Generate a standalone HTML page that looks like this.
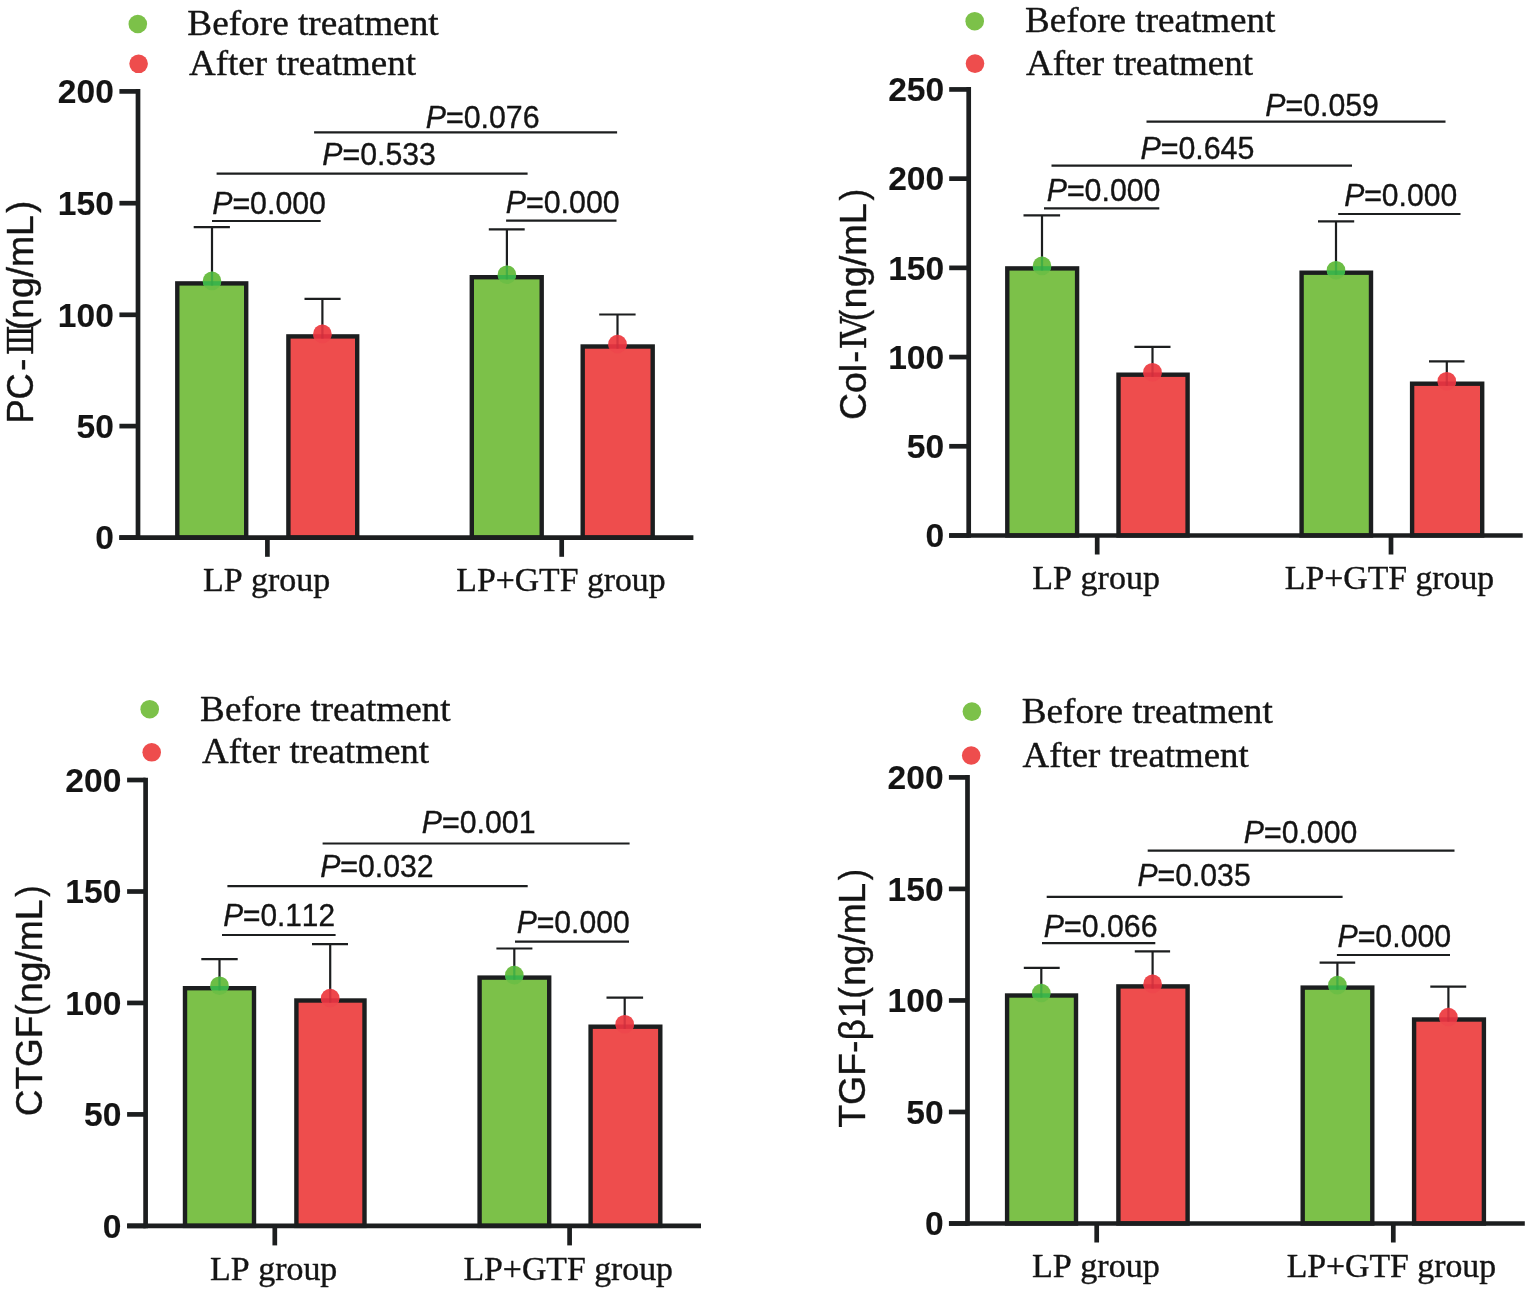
<!DOCTYPE html>
<html lang="en">
<head>
<meta charset="utf-8">
<title>Serum fibrosis markers before and after treatment</title>
<style>
html,body{margin:0;padding:0;background:#fff;}
body{width:1535px;height:1294px;overflow:hidden;}
svg{display:block;}
text{white-space:pre;font-kerning:none;fill:#141414;stroke:#141414;stroke-width:0.38px;stroke-linejoin:round;}
.tk{stroke-width:0.1px;}
.eq{stroke-width:0.65px;}
</style>
</head>
<body>
<svg width="1535" height="1294" viewBox="0 0 1535 1294" fill="#1c1e1f">
<rect width="1535" height="1294" fill="#ffffff"/>
<g class="panel">
<rect x="177.3" y="283.4" width="68.9" height="254.2" fill="#7cc149" stroke="#1c1e1f" stroke-width="4.4"/>
<rect x="288.4" y="336.4" width="68.8" height="201.2" fill="#ee4d4d" stroke="#1c1e1f" stroke-width="4.4"/>
<rect x="471.8" y="277.2" width="69.9" height="260.4" fill="#7cc149" stroke="#1c1e1f" stroke-width="4.4"/>
<rect x="582.7" y="346.5" width="70" height="191.1" fill="#ee4d4d" stroke="#1c1e1f" stroke-width="4.4"/>
<line x1="212" y1="227.2" x2="212" y2="283.2" stroke="#1c1e1f" stroke-width="2.2" stroke-linecap="butt"/>
<line x1="193.7" y1="227.2" x2="229.9" y2="227.2" stroke="#1c1e1f" stroke-width="2.2" stroke-linecap="butt"/>
<clipPath id="c11"><circle cx="212" cy="280.9" r="9.3"/></clipPath>
<circle cx="212" cy="280.9" r="9.3" fill="#6cbe45"/>
<g clip-path="url(#c11)"><rect x="202" y="281.2" width="20" height="4.4" fill="#3cb44a"/><rect x="210.9" y="270.9" width="2.2" height="14.7" fill="#35a846" fill-opacity="0.75"/></g>
<line x1="322.4" y1="298.9" x2="322.4" y2="336.2" stroke="#1c1e1f" stroke-width="2.2" stroke-linecap="butt"/>
<line x1="304.5" y1="298.9" x2="340.6" y2="298.9" stroke="#1c1e1f" stroke-width="2.2" stroke-linecap="butt"/>
<clipPath id="c12"><circle cx="322.4" cy="333.9" r="9.3"/></clipPath>
<circle cx="322.4" cy="333.9" r="9.3" fill="#ee474c"/>
<g clip-path="url(#c12)"><rect x="312.4" y="334.2" width="20" height="4.4" fill="#de3340"/><rect x="321.3" y="323.9" width="2.2" height="14.7" fill="#cc2f3c" fill-opacity="0.75"/></g>
<line x1="506.9" y1="229.3" x2="506.9" y2="277" stroke="#1c1e1f" stroke-width="2.2" stroke-linecap="butt"/>
<line x1="488.8" y1="229.3" x2="524.7" y2="229.3" stroke="#1c1e1f" stroke-width="2.2" stroke-linecap="butt"/>
<clipPath id="c13"><circle cx="506.9" cy="274.7" r="9.3"/></clipPath>
<circle cx="506.9" cy="274.7" r="9.3" fill="#6cbe45"/>
<g clip-path="url(#c13)"><rect x="496.9" y="275" width="20" height="4.4" fill="#3cb44a"/><rect x="505.8" y="264.7" width="2.2" height="14.7" fill="#35a846" fill-opacity="0.75"/></g>
<line x1="617.5" y1="314.5" x2="617.5" y2="346.3" stroke="#1c1e1f" stroke-width="2.2" stroke-linecap="butt"/>
<line x1="599.2" y1="314.5" x2="635.6" y2="314.5" stroke="#1c1e1f" stroke-width="2.2" stroke-linecap="butt"/>
<clipPath id="c14"><circle cx="617.5" cy="344" r="9.3"/></clipPath>
<circle cx="617.5" cy="344" r="9.3" fill="#ee474c"/>
<g clip-path="url(#c14)"><rect x="607.5" y="344.3" width="20" height="4.4" fill="#de3340"/><rect x="616.4" y="334" width="2.2" height="14.7" fill="#cc2f3c" fill-opacity="0.75"/></g>
<line x1="138" y1="89.05" x2="138" y2="539.95" stroke="#1c1e1f" stroke-width="4.7" stroke-linecap="butt"/>
<line x1="119.3" y1="537.6" x2="693.4" y2="537.6" stroke="#1c1e1f" stroke-width="4.7" stroke-linecap="butt"/>
<line x1="119.4" y1="91.4" x2="138" y2="91.4" stroke="#1c1e1f" stroke-width="4.7" stroke-linecap="butt"/>
<text x="113.9" y="103.1" font-family='"Liberation Sans", sans-serif' font-size="33.6" font-weight="bold" text-anchor="end" class="tk">200</text>
<line x1="119.4" y1="203.2" x2="138" y2="203.2" stroke="#1c1e1f" stroke-width="4.7" stroke-linecap="butt"/>
<text x="113.9" y="214.9" font-family='"Liberation Sans", sans-serif' font-size="33.6" font-weight="bold" text-anchor="end" class="tk">150</text>
<line x1="119.4" y1="314.8" x2="138" y2="314.8" stroke="#1c1e1f" stroke-width="4.7" stroke-linecap="butt"/>
<text x="113.9" y="326.5" font-family='"Liberation Sans", sans-serif' font-size="33.6" font-weight="bold" text-anchor="end" class="tk">100</text>
<line x1="119.4" y1="426.1" x2="138" y2="426.1" stroke="#1c1e1f" stroke-width="4.7" stroke-linecap="butt"/>
<text x="113.9" y="437.8" font-family='"Liberation Sans", sans-serif' font-size="33.6" font-weight="bold" text-anchor="end" class="tk">50</text>
<line x1="119.4" y1="537.6" x2="138" y2="537.6" stroke="#1c1e1f" stroke-width="4.7" stroke-linecap="butt"/>
<text x="113.9" y="549.3" font-family='"Liberation Sans", sans-serif' font-size="33.6" font-weight="bold" text-anchor="end" class="tk">0</text>
<line x1="267.4" y1="537.6" x2="267.4" y2="556.8" stroke="#1c1e1f" stroke-width="4.7" stroke-linecap="butt"/>
<line x1="561.7" y1="537.6" x2="561.7" y2="556.8" stroke="#1c1e1f" stroke-width="4.7" stroke-linecap="butt"/>
<text x="202.92" y="591" font-family='"Liberation Serif", serif' font-size="34.2" textLength="127.41" lengthAdjust="spacingAndGlyphs" >LP group</text>
<text x="456.33" y="591" font-family='"Liberation Serif", serif' font-size="34.2" textLength="209.29" lengthAdjust="spacingAndGlyphs" >LP+GTF group</text>
<circle cx="137.8" cy="24" r="9.3" fill="#7cc149"/>
<circle cx="138.6" cy="63.8" r="9.3" fill="#ee4d4d"/>
<text x="187.33" y="35.4" font-family='"Liberation Serif", serif' font-size="35" textLength="251.29" lengthAdjust="spacingAndGlyphs" >Before treatment</text>
<text x="188.94" y="75.1" font-family='"Liberation Serif", serif' font-size="35" textLength="227.08" lengthAdjust="spacingAndGlyphs" >After treatment</text>
<text x="425.77" y="127.5" font-family='"Liberation Sans", sans-serif' font-size="32" textLength="113.76" lengthAdjust="spacingAndGlyphs"><tspan font-style="italic">P</tspan><tspan class="eq">=</tspan>0.076</text>
<text x="322.37" y="165" font-family='"Liberation Sans", sans-serif' font-size="32" textLength="113.46" lengthAdjust="spacingAndGlyphs"><tspan font-style="italic">P</tspan><tspan class="eq">=</tspan>0.533</text>
<text x="212.17" y="214.2" font-family='"Liberation Sans", sans-serif' font-size="32" textLength="113.82" lengthAdjust="spacingAndGlyphs"><tspan font-style="italic">P</tspan><tspan class="eq">=</tspan>0.000</text>
<text x="505.77" y="213.2" font-family='"Liberation Sans", sans-serif' font-size="32" textLength="113.92" lengthAdjust="spacingAndGlyphs"><tspan font-style="italic">P</tspan><tspan class="eq">=</tspan>0.000</text>
<line x1="314.1" y1="132.4" x2="617.1" y2="132.4" stroke="#1c1e1f" stroke-width="2.2" stroke-linecap="butt"/>
<line x1="216.6" y1="173.7" x2="527.6" y2="173.7" stroke="#1c1e1f" stroke-width="2.2" stroke-linecap="butt"/>
<line x1="212" y1="221" x2="320.7" y2="221" stroke="#1c1e1f" stroke-width="2.2" stroke-linecap="butt"/>
<line x1="506.1" y1="220.7" x2="616.5" y2="220.7" stroke="#1c1e1f" stroke-width="2.2" stroke-linecap="butt"/>
<g transform="translate(33.4 0) rotate(-90)">
<text y="0" font-family='"Liberation Sans", sans-serif'><tspan x="-423.57" font-size="36.6" textLength="50.24" lengthAdjust="spacingAndGlyphs">PC</tspan><tspan x="-370.97" font-size="36.6" textLength="12.55" lengthAdjust="spacingAndGlyphs">-</tspan><tspan x="-355.32" font-family='"DejaVu Serif", "Noto Serif CJK SC", serif' font-size="35.4" textLength="30.04" lengthAdjust="spacingAndGlyphs">&#8546;</tspan><tspan x="-330.08" font-size="36.6" textLength="11.68" lengthAdjust="spacingAndGlyphs">(</tspan><tspan x="-318.88" font-size="36.6" textLength="103.72" lengthAdjust="spacingAndGlyphs">ng/mL</tspan><tspan x="-212.71" font-size="36.6" textLength="11.93" lengthAdjust="spacingAndGlyphs">)</tspan></text>
</g>
</g>
<g class="panel">
<rect x="1007.3" y="268.4" width="69.8" height="267.1" fill="#7cc149" stroke="#1c1e1f" stroke-width="4.4"/>
<rect x="1118.5" y="374.7" width="69.1" height="160.8" fill="#ee4d4d" stroke="#1c1e1f" stroke-width="4.4"/>
<rect x="1301.6" y="272.7" width="69.4" height="262.8" fill="#7cc149" stroke="#1c1e1f" stroke-width="4.4"/>
<rect x="1412.1" y="383.7" width="70.1" height="151.8" fill="#ee4d4d" stroke="#1c1e1f" stroke-width="4.4"/>
<line x1="1042" y1="215.3" x2="1042" y2="268.2" stroke="#1c1e1f" stroke-width="2.2" stroke-linecap="butt"/>
<line x1="1023.5" y1="215.3" x2="1060.1" y2="215.3" stroke="#1c1e1f" stroke-width="2.2" stroke-linecap="butt"/>
<clipPath id="c21"><circle cx="1042" cy="265.9" r="9.3"/></clipPath>
<circle cx="1042" cy="265.9" r="9.3" fill="#6cbe45"/>
<g clip-path="url(#c21)"><rect x="1032" y="266.2" width="20" height="4.4" fill="#3cb44a"/><rect x="1040.9" y="255.9" width="2.2" height="14.7" fill="#35a846" fill-opacity="0.75"/></g>
<line x1="1152.5" y1="346.8" x2="1152.5" y2="374.5" stroke="#1c1e1f" stroke-width="2.2" stroke-linecap="butt"/>
<line x1="1134.4" y1="346.8" x2="1170.5" y2="346.8" stroke="#1c1e1f" stroke-width="2.2" stroke-linecap="butt"/>
<clipPath id="c22"><circle cx="1152.5" cy="372.2" r="9.3"/></clipPath>
<circle cx="1152.5" cy="372.2" r="9.3" fill="#ee474c"/>
<g clip-path="url(#c22)"><rect x="1142.5" y="372.5" width="20" height="4.4" fill="#de3340"/><rect x="1151.4" y="362.2" width="2.2" height="14.7" fill="#cc2f3c" fill-opacity="0.75"/></g>
<line x1="1336" y1="221.3" x2="1336" y2="272.5" stroke="#1c1e1f" stroke-width="2.2" stroke-linecap="butt"/>
<line x1="1318" y1="221.3" x2="1354.2" y2="221.3" stroke="#1c1e1f" stroke-width="2.2" stroke-linecap="butt"/>
<clipPath id="c23"><circle cx="1336" cy="270.2" r="9.3"/></clipPath>
<circle cx="1336" cy="270.2" r="9.3" fill="#6cbe45"/>
<g clip-path="url(#c23)"><rect x="1326" y="270.5" width="20" height="4.4" fill="#3cb44a"/><rect x="1334.9" y="260.2" width="2.2" height="14.7" fill="#35a846" fill-opacity="0.75"/></g>
<line x1="1446.8" y1="361.3" x2="1446.8" y2="383.5" stroke="#1c1e1f" stroke-width="2.2" stroke-linecap="butt"/>
<line x1="1429" y1="361.3" x2="1464.5" y2="361.3" stroke="#1c1e1f" stroke-width="2.2" stroke-linecap="butt"/>
<clipPath id="c24"><circle cx="1446.8" cy="381.2" r="9.3"/></clipPath>
<circle cx="1446.8" cy="381.2" r="9.3" fill="#ee474c"/>
<g clip-path="url(#c24)"><rect x="1436.8" y="381.5" width="20" height="4.4" fill="#de3340"/><rect x="1445.7" y="371.2" width="2.2" height="14.7" fill="#cc2f3c" fill-opacity="0.75"/></g>
<line x1="968.7" y1="87.09" x2="968.7" y2="537.85" stroke="#1c1e1f" stroke-width="4.7" stroke-linecap="butt"/>
<line x1="949.2" y1="535.5" x2="1522.7" y2="535.5" stroke="#1c1e1f" stroke-width="4.7" stroke-linecap="butt"/>
<line x1="949.2" y1="89.44" x2="968.7" y2="89.44" stroke="#1c1e1f" stroke-width="4.7" stroke-linecap="butt"/>
<text x="944.2" y="101.14" font-family='"Liberation Sans", sans-serif' font-size="33.6" font-weight="bold" text-anchor="end" class="tk">250</text>
<line x1="949.2" y1="178.65" x2="968.7" y2="178.65" stroke="#1c1e1f" stroke-width="4.7" stroke-linecap="butt"/>
<text x="944.2" y="190.35" font-family='"Liberation Sans", sans-serif' font-size="33.6" font-weight="bold" text-anchor="end" class="tk">200</text>
<line x1="949.2" y1="267.86" x2="968.7" y2="267.86" stroke="#1c1e1f" stroke-width="4.7" stroke-linecap="butt"/>
<text x="944.2" y="279.56" font-family='"Liberation Sans", sans-serif' font-size="33.6" font-weight="bold" text-anchor="end" class="tk">150</text>
<line x1="949.2" y1="357.07" x2="968.7" y2="357.07" stroke="#1c1e1f" stroke-width="4.7" stroke-linecap="butt"/>
<text x="944.2" y="368.77" font-family='"Liberation Sans", sans-serif' font-size="33.6" font-weight="bold" text-anchor="end" class="tk">100</text>
<line x1="949.2" y1="446.28" x2="968.7" y2="446.28" stroke="#1c1e1f" stroke-width="4.7" stroke-linecap="butt"/>
<text x="944.2" y="457.98" font-family='"Liberation Sans", sans-serif' font-size="33.6" font-weight="bold" text-anchor="end" class="tk">50</text>
<line x1="949.2" y1="535.5" x2="968.7" y2="535.5" stroke="#1c1e1f" stroke-width="4.7" stroke-linecap="butt"/>
<text x="944.2" y="547.2" font-family='"Liberation Sans", sans-serif' font-size="33.6" font-weight="bold" text-anchor="end" class="tk">0</text>
<line x1="1097.2" y1="535.5" x2="1097.2" y2="554.5" stroke="#1c1e1f" stroke-width="4.7" stroke-linecap="butt"/>
<line x1="1391" y1="535.5" x2="1391" y2="554.5" stroke="#1c1e1f" stroke-width="4.7" stroke-linecap="butt"/>
<text x="1032.32" y="589" font-family='"Liberation Serif", serif' font-size="34.2" textLength="127.61" lengthAdjust="spacingAndGlyphs" >LP group</text>
<text x="1284.83" y="589" font-family='"Liberation Serif", serif' font-size="34.2" textLength="209.39" lengthAdjust="spacingAndGlyphs" >LP+GTF group</text>
<circle cx="974.7" cy="21.2" r="9.3" fill="#7cc149"/>
<circle cx="975" cy="63.6" r="9.3" fill="#ee4d4d"/>
<text x="1025.13" y="32.3" font-family='"Liberation Serif", serif' font-size="35" textLength="250.29" lengthAdjust="spacingAndGlyphs" >Before treatment</text>
<text x="1025.94" y="74.6" font-family='"Liberation Serif", serif' font-size="35" textLength="227.08" lengthAdjust="spacingAndGlyphs" >After treatment</text>
<text x="1265.37" y="115.6" font-family='"Liberation Sans", sans-serif' font-size="32" textLength="113.56" lengthAdjust="spacingAndGlyphs"><tspan font-style="italic">P</tspan><tspan class="eq">=</tspan>0.059</text>
<text x="1140.47" y="158.5" font-family='"Liberation Sans", sans-serif' font-size="32" textLength="113.91" lengthAdjust="spacingAndGlyphs"><tspan font-style="italic">P</tspan><tspan class="eq">=</tspan>0.645</text>
<text x="1046.67" y="201.4" font-family='"Liberation Sans", sans-serif' font-size="32" textLength="113.82" lengthAdjust="spacingAndGlyphs"><tspan font-style="italic">P</tspan><tspan class="eq">=</tspan>0.000</text>
<text x="1344.17" y="205.9" font-family='"Liberation Sans", sans-serif' font-size="32" textLength="113" lengthAdjust="spacingAndGlyphs"><tspan font-style="italic">P</tspan><tspan class="eq">=</tspan>0.000</text>
<line x1="1146.5" y1="121.7" x2="1445.5" y2="121.7" stroke="#1c1e1f" stroke-width="2.2" stroke-linecap="butt"/>
<line x1="1051.5" y1="165.7" x2="1352" y2="165.7" stroke="#1c1e1f" stroke-width="2.2" stroke-linecap="butt"/>
<line x1="1044" y1="208.3" x2="1159.3" y2="208.3" stroke="#1c1e1f" stroke-width="2.2" stroke-linecap="butt"/>
<line x1="1338.2" y1="214" x2="1460.5" y2="214" stroke="#1c1e1f" stroke-width="2.2" stroke-linecap="butt"/>
<g transform="translate(866.4 0) rotate(-90)">
<text y="0" font-family='"Liberation Sans", sans-serif'><tspan x="-420" font-size="36.6" textLength="56.1" lengthAdjust="spacingAndGlyphs">Col</tspan><tspan x="-362.8" font-size="36.6" textLength="12" lengthAdjust="spacingAndGlyphs">-</tspan><tspan x="-349.51" font-family='"DejaVu Serif", "Noto Serif CJK SC", serif' font-size="35.4" textLength="32.83" lengthAdjust="spacingAndGlyphs">&#8547;</tspan><tspan x="-321.15" font-size="36.6" textLength="11.56" lengthAdjust="spacingAndGlyphs">(</tspan><tspan x="-308.42" font-size="36.6" textLength="105.27" lengthAdjust="spacingAndGlyphs">ng/mL</tspan><tspan x="-200.51" font-size="36.6" textLength="11.68" lengthAdjust="spacingAndGlyphs">)</tspan></text>
</g>
</g>
<g class="panel">
<rect x="185" y="988.2" width="69" height="237.7" fill="#7cc149" stroke="#1c1e1f" stroke-width="4.4"/>
<rect x="296.4" y="1000.5" width="68.1" height="225.4" fill="#ee4d4d" stroke="#1c1e1f" stroke-width="4.4"/>
<rect x="479.6" y="977.6" width="69.6" height="248.3" fill="#7cc149" stroke="#1c1e1f" stroke-width="4.4"/>
<rect x="590.6" y="1026.7" width="69.7" height="199.2" fill="#ee4d4d" stroke="#1c1e1f" stroke-width="4.4"/>
<line x1="219.5" y1="959.1" x2="219.5" y2="988" stroke="#1c1e1f" stroke-width="2.2" stroke-linecap="butt"/>
<line x1="201.3" y1="959.1" x2="237.7" y2="959.1" stroke="#1c1e1f" stroke-width="2.2" stroke-linecap="butt"/>
<clipPath id="c31"><circle cx="219.5" cy="985.7" r="9.3"/></clipPath>
<circle cx="219.5" cy="985.7" r="9.3" fill="#6cbe45"/>
<g clip-path="url(#c31)"><rect x="209.5" y="986" width="20" height="4.4" fill="#3cb44a"/><rect x="218.4" y="975.7" width="2.2" height="14.7" fill="#35a846" fill-opacity="0.75"/></g>
<line x1="330.2" y1="944.1" x2="330.2" y2="1000.3" stroke="#1c1e1f" stroke-width="2.2" stroke-linecap="butt"/>
<line x1="312" y1="944.1" x2="348" y2="944.1" stroke="#1c1e1f" stroke-width="2.2" stroke-linecap="butt"/>
<clipPath id="c32"><circle cx="330.2" cy="998" r="9.3"/></clipPath>
<circle cx="330.2" cy="998" r="9.3" fill="#ee474c"/>
<g clip-path="url(#c32)"><rect x="320.2" y="998.3" width="20" height="4.4" fill="#de3340"/><rect x="329.1" y="988" width="2.2" height="14.7" fill="#cc2f3c" fill-opacity="0.75"/></g>
<line x1="514.3" y1="948.5" x2="514.3" y2="977.4" stroke="#1c1e1f" stroke-width="2.2" stroke-linecap="butt"/>
<line x1="496.4" y1="948.5" x2="532.4" y2="948.5" stroke="#1c1e1f" stroke-width="2.2" stroke-linecap="butt"/>
<clipPath id="c33"><circle cx="514.3" cy="975.1" r="9.3"/></clipPath>
<circle cx="514.3" cy="975.1" r="9.3" fill="#6cbe45"/>
<g clip-path="url(#c33)"><rect x="504.3" y="975.4" width="20" height="4.4" fill="#3cb44a"/><rect x="513.2" y="965.1" width="2.2" height="14.7" fill="#35a846" fill-opacity="0.75"/></g>
<line x1="624.7" y1="997.6" x2="624.7" y2="1026.5" stroke="#1c1e1f" stroke-width="2.2" stroke-linecap="butt"/>
<line x1="606.5" y1="997.6" x2="643.1" y2="997.6" stroke="#1c1e1f" stroke-width="2.2" stroke-linecap="butt"/>
<clipPath id="c34"><circle cx="624.7" cy="1024.2" r="9.3"/></clipPath>
<circle cx="624.7" cy="1024.2" r="9.3" fill="#ee474c"/>
<g clip-path="url(#c34)"><rect x="614.7" y="1024.5" width="20" height="4.4" fill="#de3340"/><rect x="623.6" y="1014.2" width="2.2" height="14.7" fill="#cc2f3c" fill-opacity="0.75"/></g>
<line x1="145.6" y1="777.65" x2="145.6" y2="1228.25" stroke="#1c1e1f" stroke-width="4.7" stroke-linecap="butt"/>
<line x1="127.2" y1="1225.9" x2="701" y2="1225.9" stroke="#1c1e1f" stroke-width="4.7" stroke-linecap="butt"/>
<line x1="127.1" y1="780" x2="145.6" y2="780" stroke="#1c1e1f" stroke-width="4.7" stroke-linecap="butt"/>
<text x="121.4" y="791.7" font-family='"Liberation Sans", sans-serif' font-size="33.6" font-weight="bold" text-anchor="end" class="tk">200</text>
<line x1="127.1" y1="891.5" x2="145.6" y2="891.5" stroke="#1c1e1f" stroke-width="4.7" stroke-linecap="butt"/>
<text x="121.4" y="903.2" font-family='"Liberation Sans", sans-serif' font-size="33.6" font-weight="bold" text-anchor="end" class="tk">150</text>
<line x1="127.1" y1="1002.95" x2="145.6" y2="1002.95" stroke="#1c1e1f" stroke-width="4.7" stroke-linecap="butt"/>
<text x="121.4" y="1014.65" font-family='"Liberation Sans", sans-serif' font-size="33.6" font-weight="bold" text-anchor="end" class="tk">100</text>
<line x1="127.1" y1="1114.4" x2="145.6" y2="1114.4" stroke="#1c1e1f" stroke-width="4.7" stroke-linecap="butt"/>
<text x="121.4" y="1126.1" font-family='"Liberation Sans", sans-serif' font-size="33.6" font-weight="bold" text-anchor="end" class="tk">50</text>
<line x1="127.1" y1="1225.9" x2="145.6" y2="1225.9" stroke="#1c1e1f" stroke-width="4.7" stroke-linecap="butt"/>
<text x="121.4" y="1237.6" font-family='"Liberation Sans", sans-serif' font-size="33.6" font-weight="bold" text-anchor="end" class="tk">0</text>
<line x1="274.8" y1="1225.9" x2="274.8" y2="1245.4" stroke="#1c1e1f" stroke-width="4.7" stroke-linecap="butt"/>
<line x1="569.6" y1="1225.9" x2="569.6" y2="1245.4" stroke="#1c1e1f" stroke-width="4.7" stroke-linecap="butt"/>
<text x="210.12" y="1279.8" font-family='"Liberation Serif", serif' font-size="34.2" textLength="127.2" lengthAdjust="spacingAndGlyphs" >LP group</text>
<text x="463.43" y="1279.8" font-family='"Liberation Serif", serif' font-size="34.2" textLength="209.59" lengthAdjust="spacingAndGlyphs" >LP+GTF group</text>
<circle cx="149.7" cy="709.2" r="9.3" fill="#7cc149"/>
<circle cx="151.7" cy="752.3" r="9.3" fill="#ee4d4d"/>
<text x="200.13" y="720.5" font-family='"Liberation Serif", serif' font-size="35" textLength="250.49" lengthAdjust="spacingAndGlyphs" >Before treatment</text>
<text x="202.14" y="763.4" font-family='"Liberation Serif", serif' font-size="35" textLength="226.98" lengthAdjust="spacingAndGlyphs" >After treatment</text>
<text x="421.87" y="833.2" font-family='"Liberation Sans", sans-serif' font-size="32" textLength="113.61" lengthAdjust="spacingAndGlyphs"><tspan font-style="italic">P</tspan><tspan class="eq">=</tspan>0.001</text>
<text x="320.17" y="876.5" font-family='"Liberation Sans", sans-serif' font-size="32" textLength="113.45" lengthAdjust="spacingAndGlyphs"><tspan font-style="italic">P</tspan><tspan class="eq">=</tspan>0.032</text>
<text x="223.18" y="926.2" font-family='"Liberation Sans", sans-serif' font-size="32" textLength="111.81" lengthAdjust="spacingAndGlyphs"><tspan font-style="italic">P</tspan><tspan class="eq">=</tspan>0.112</text>
<text x="516.67" y="932.9" font-family='"Liberation Sans", sans-serif' font-size="32" textLength="113.1" lengthAdjust="spacingAndGlyphs"><tspan font-style="italic">P</tspan><tspan class="eq">=</tspan>0.000</text>
<line x1="322.6" y1="843.5" x2="629.6" y2="843.5" stroke="#1c1e1f" stroke-width="2.2" stroke-linecap="butt"/>
<line x1="227.4" y1="886.2" x2="527.7" y2="886.2" stroke="#1c1e1f" stroke-width="2.2" stroke-linecap="butt"/>
<line x1="222" y1="935" x2="335.6" y2="935" stroke="#1c1e1f" stroke-width="2.2" stroke-linecap="butt"/>
<line x1="515" y1="941.7" x2="629" y2="941.7" stroke="#1c1e1f" stroke-width="2.2" stroke-linecap="butt"/>
<g transform="translate(42.2 0) rotate(-90)">
<text y="0" font-family='"Liberation Sans", sans-serif'><tspan x="-1116.18" font-size="36.6" textLength="100.56" lengthAdjust="spacingAndGlyphs">CTGF</tspan><tspan x="-1015.95" font-size="36.6" textLength="11.56" lengthAdjust="spacingAndGlyphs">(</tspan><tspan x="-1002.97" font-size="36.6" textLength="103.51" lengthAdjust="spacingAndGlyphs">ng/mL</tspan><tspan x="-896.8" font-size="36.6" textLength="11.3" lengthAdjust="spacingAndGlyphs">)</tspan></text>
</g>
</g>
<g class="panel">
<rect x="1007.1" y="995.5" width="68.9" height="228" fill="#7cc149" stroke="#1c1e1f" stroke-width="4.4"/>
<rect x="1118.4" y="986.4" width="69.2" height="237.1" fill="#ee4d4d" stroke="#1c1e1f" stroke-width="4.4"/>
<rect x="1302.7" y="987.6" width="69.6" height="235.9" fill="#7cc149" stroke="#1c1e1f" stroke-width="4.4"/>
<rect x="1414.1" y="1019.5" width="69.8" height="204" fill="#ee4d4d" stroke="#1c1e1f" stroke-width="4.4"/>
<line x1="1041.3" y1="967.9" x2="1041.3" y2="995.3" stroke="#1c1e1f" stroke-width="2.2" stroke-linecap="butt"/>
<line x1="1023.8" y1="967.9" x2="1059.7" y2="967.9" stroke="#1c1e1f" stroke-width="2.2" stroke-linecap="butt"/>
<clipPath id="c41"><circle cx="1041.3" cy="993" r="9.3"/></clipPath>
<circle cx="1041.3" cy="993" r="9.3" fill="#6cbe45"/>
<g clip-path="url(#c41)"><rect x="1031.3" y="993.3" width="20" height="4.4" fill="#3cb44a"/><rect x="1040.2" y="983" width="2.2" height="14.7" fill="#35a846" fill-opacity="0.75"/></g>
<line x1="1152.6" y1="951.4" x2="1152.6" y2="986.2" stroke="#1c1e1f" stroke-width="2.2" stroke-linecap="butt"/>
<line x1="1134.8" y1="951.4" x2="1170.1" y2="951.4" stroke="#1c1e1f" stroke-width="2.2" stroke-linecap="butt"/>
<clipPath id="c42"><circle cx="1152.6" cy="983.9" r="9.3"/></clipPath>
<circle cx="1152.6" cy="983.9" r="9.3" fill="#ee474c"/>
<g clip-path="url(#c42)"><rect x="1142.6" y="984.2" width="20" height="4.4" fill="#de3340"/><rect x="1151.5" y="973.9" width="2.2" height="14.7" fill="#cc2f3c" fill-opacity="0.75"/></g>
<line x1="1337.4" y1="962.6" x2="1337.4" y2="987.4" stroke="#1c1e1f" stroke-width="2.2" stroke-linecap="butt"/>
<line x1="1319.6" y1="962.6" x2="1355.2" y2="962.6" stroke="#1c1e1f" stroke-width="2.2" stroke-linecap="butt"/>
<clipPath id="c43"><circle cx="1337.4" cy="985.1" r="9.3"/></clipPath>
<circle cx="1337.4" cy="985.1" r="9.3" fill="#6cbe45"/>
<g clip-path="url(#c43)"><rect x="1327.4" y="985.4" width="20" height="4.4" fill="#3cb44a"/><rect x="1336.3" y="975.1" width="2.2" height="14.7" fill="#35a846" fill-opacity="0.75"/></g>
<line x1="1448.4" y1="986.7" x2="1448.4" y2="1019.3" stroke="#1c1e1f" stroke-width="2.2" stroke-linecap="butt"/>
<line x1="1430.3" y1="986.7" x2="1466.2" y2="986.7" stroke="#1c1e1f" stroke-width="2.2" stroke-linecap="butt"/>
<clipPath id="c44"><circle cx="1448.4" cy="1017" r="9.3"/></clipPath>
<circle cx="1448.4" cy="1017" r="9.3" fill="#ee474c"/>
<g clip-path="url(#c44)"><rect x="1438.4" y="1017.3" width="20" height="4.4" fill="#de3340"/><rect x="1447.3" y="1007" width="2.2" height="14.7" fill="#cc2f3c" fill-opacity="0.75"/></g>
<line x1="967.5" y1="775.05" x2="967.5" y2="1225.85" stroke="#1c1e1f" stroke-width="4.7" stroke-linecap="butt"/>
<line x1="949" y1="1223.5" x2="1524.8" y2="1223.5" stroke="#1c1e1f" stroke-width="4.7" stroke-linecap="butt"/>
<line x1="948.9" y1="777.4" x2="967.5" y2="777.4" stroke="#1c1e1f" stroke-width="4.7" stroke-linecap="butt"/>
<text x="943.6" y="789.1" font-family='"Liberation Sans", sans-serif' font-size="33.6" font-weight="bold" text-anchor="end" class="tk">200</text>
<line x1="948.9" y1="888.9" x2="967.5" y2="888.9" stroke="#1c1e1f" stroke-width="4.7" stroke-linecap="butt"/>
<text x="943.6" y="900.6" font-family='"Liberation Sans", sans-serif' font-size="33.6" font-weight="bold" text-anchor="end" class="tk">150</text>
<line x1="948.9" y1="1000.45" x2="967.5" y2="1000.45" stroke="#1c1e1f" stroke-width="4.7" stroke-linecap="butt"/>
<text x="943.6" y="1012.15" font-family='"Liberation Sans", sans-serif' font-size="33.6" font-weight="bold" text-anchor="end" class="tk">100</text>
<line x1="948.9" y1="1111.97" x2="967.5" y2="1111.97" stroke="#1c1e1f" stroke-width="4.7" stroke-linecap="butt"/>
<text x="943.6" y="1123.67" font-family='"Liberation Sans", sans-serif' font-size="33.6" font-weight="bold" text-anchor="end" class="tk">50</text>
<line x1="948.9" y1="1223.5" x2="967.5" y2="1223.5" stroke="#1c1e1f" stroke-width="4.7" stroke-linecap="butt"/>
<text x="943.6" y="1235.2" font-family='"Liberation Sans", sans-serif' font-size="33.6" font-weight="bold" text-anchor="end" class="tk">0</text>
<line x1="1096.7" y1="1223.5" x2="1096.7" y2="1242.5" stroke="#1c1e1f" stroke-width="4.7" stroke-linecap="butt"/>
<line x1="1393.3" y1="1223.5" x2="1393.3" y2="1242.5" stroke="#1c1e1f" stroke-width="4.7" stroke-linecap="butt"/>
<text x="1031.92" y="1277.2" font-family='"Liberation Serif", serif' font-size="34.2" textLength="128.02" lengthAdjust="spacingAndGlyphs" >LP group</text>
<text x="1286.63" y="1277.2" font-family='"Liberation Serif", serif' font-size="34.2" textLength="209.49" lengthAdjust="spacingAndGlyphs" >LP+GTF group</text>
<circle cx="971.9" cy="711.6" r="9.3" fill="#7cc149"/>
<circle cx="971.2" cy="755.5" r="9.3" fill="#ee4d4d"/>
<text x="1021.73" y="722.8" font-family='"Liberation Serif", serif' font-size="35" textLength="251.09" lengthAdjust="spacingAndGlyphs" >Before treatment</text>
<text x="1022.54" y="766.5" font-family='"Liberation Serif", serif' font-size="35" textLength="226.18" lengthAdjust="spacingAndGlyphs" >After treatment</text>
<text x="1243.87" y="842.6" font-family='"Liberation Sans", sans-serif' font-size="32" textLength="113.41" lengthAdjust="spacingAndGlyphs"><tspan font-style="italic">P</tspan><tspan class="eq">=</tspan>0.000</text>
<text x="1137.47" y="886.2" font-family='"Liberation Sans", sans-serif' font-size="32" textLength="113.19" lengthAdjust="spacingAndGlyphs"><tspan font-style="italic">P</tspan><tspan class="eq">=</tspan>0.035</text>
<text x="1043.87" y="936.5" font-family='"Liberation Sans", sans-serif' font-size="32" textLength="113.66" lengthAdjust="spacingAndGlyphs"><tspan font-style="italic">P</tspan><tspan class="eq">=</tspan>0.066</text>
<text x="1337.47" y="947" font-family='"Liberation Sans", sans-serif' font-size="32" textLength="113.72" lengthAdjust="spacingAndGlyphs"><tspan font-style="italic">P</tspan><tspan class="eq">=</tspan>0.000</text>
<line x1="1147.7" y1="850.6" x2="1454.5" y2="850.6" stroke="#1c1e1f" stroke-width="2.2" stroke-linecap="butt"/>
<line x1="1046.7" y1="896.9" x2="1342.6" y2="896.9" stroke="#1c1e1f" stroke-width="2.2" stroke-linecap="butt"/>
<line x1="1042" y1="943.1" x2="1155.3" y2="943.1" stroke="#1c1e1f" stroke-width="2.2" stroke-linecap="butt"/>
<line x1="1336.9" y1="955" x2="1450" y2="955" stroke="#1c1e1f" stroke-width="2.2" stroke-linecap="butt"/>
<g transform="translate(864.8 0) rotate(-90)">
<text y="0" font-family='"Liberation Sans", sans-serif'><tspan x="-1127.74" font-size="36.6" textLength="108.62" lengthAdjust="spacingAndGlyphs">TGF-&#946;</tspan><tspan x="-1018.29" font-size="36.6" textLength="20.38" lengthAdjust="spacingAndGlyphs">1</tspan><tspan x="-998.78" font-size="36.6" textLength="11.68" lengthAdjust="spacingAndGlyphs">(</tspan><tspan x="-985.86" font-size="36.6" textLength="103.09" lengthAdjust="spacingAndGlyphs">ng/mL</tspan><tspan x="-880.2" font-size="36.6" textLength="11.3" lengthAdjust="spacingAndGlyphs">)</tspan></text>
</g>
</g>
</svg>
</body>
</html>
